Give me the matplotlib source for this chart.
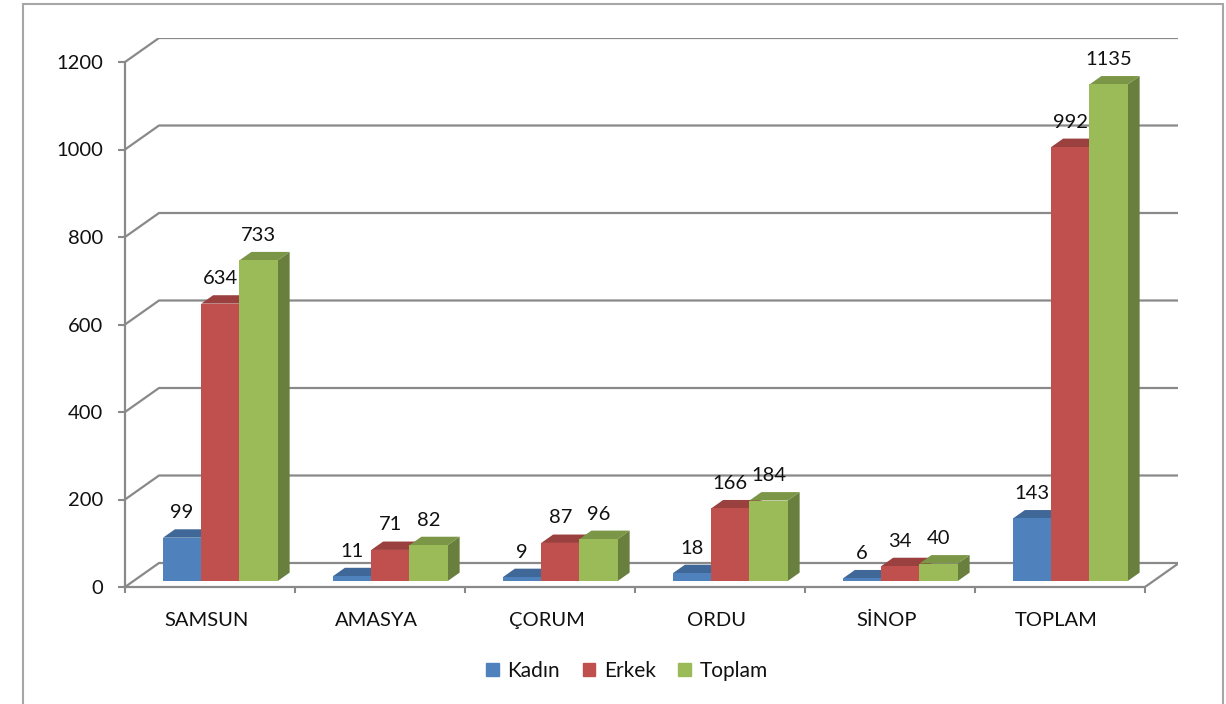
import matplotlib.pyplot as plt
import numpy as np
from matplotlib.colors import to_rgb
from matplotlib.patches import Polygon, Patch, Rectangle

plt.rcParams['font.family'] = ['Lato', 'DejaVu Sans']

categories = ['SAMSUN', 'AMASYA', 'ÇORUM', 'ORDU', 'SİNOP', 'TOPLAM']
kadin = [99, 11, 9, 18, 6, 143]
erkek = [634, 71, 87, 166, 34, 992]
toplam = [733, 82, 96, 184, 40, 1135]
series = ['Kadın', 'Erkek', 'Toplam']
colors = ['#4F81BD', '#C0504D', '#9BBB59']
yticks = [0, 200, 400, 600, 800, 1000, 1200]

W, H = 1226, 704
fig = plt.figure(figsize=(W / 100, H / 100), dpi=100)
# axes box: front-left floor corner up to back-top wall corner (pixels)
ax = fig.add_axes([125 / W, (H - 587) / H, (1178 - 125) / W, (587 - 38) / H])
ax.set_xlim(0, (1178 - 125) / 170)
ax.set_ylim(0, (587 - 38) / 0.4375)

# fake 3d depth in data units
DX, DY = 0.2, 24 / 0.4375
f0, f1 = 0.25, 0.6
bw = 0.225
x0 = 0.1735 + DX * f0
base = DY * f0
d = f1 - f0
grid_c = '#898989'
fs = 14.5


def shade(c, f):
    return tuple(np.array(to_rgb(c)) * f)


# back wall gridlines + floor
for v in yticks:
    ax.plot([0, DX, 6 + DX], [v, v + DY, v + DY], color=grid_c, lw=1.6, zorder=1,
            solid_capstyle='butt')
ax.plot([6, 6 + DX], [0, DY], color=grid_c, lw=1.6, zorder=1)

for k, (vals, c) in enumerate(zip([kadin, erkek, toplam], colors)):
    xs = np.arange(len(categories)) + x0 + k * bw
    for x, v in zip(xs, vals):
        side = [(x + bw, base), (x + bw + DX * d, base + DY * d),
                (x + bw + DX * d, base + v + DY * d), (x + bw, base + v)]
        top = [(x, base + v), (x + DX * d, base + v + DY * d),
               (x + bw + DX * d, base + v + DY * d), (x + bw, base + v)]
        ax.add_patch(Polygon(side, closed=True, color=shade(c, 0.68), lw=0, zorder=3))
        ax.add_patch(Polygon(top, closed=True, color=shade(c, 0.8), lw=0, zorder=3))
    ax.bar(xs, vals, width=bw, bottom=base, align='edge', color=c, lw=0, zorder=3)
    for x, v in zip(xs, vals):
        ax.annotate(str(v), (x + bw / 2, base + v), xytext=(0, 18), textcoords='offset points',
                    ha='center', va='center', fontsize=fs, color='#111111', zorder=5)

for s in ['top', 'right']:
    ax.spines[s].set_visible(False)
ax.spines['left'].set_bounds(0, 1200)
ax.spines['bottom'].set_bounds(0, 6)
for s in ['left', 'bottom']:
    ax.spines[s].set_color(grid_c)
    ax.spines[s].set_linewidth(1.6)
ax.set_facecolor('none')

ax.set_yticks(yticks)
ax.tick_params(axis='y', length=5, width=1.5, color=grid_c, pad=11, labelsize=fs,
               labelcolor='#111111')
ax.set_xticks(range(7))
ax.set_xticklabels([])
ax.set_xticks(np.arange(6) + 0.48, minor=True)
ax.set_xticklabels(categories, minor=True)
ax.tick_params(axis='x', which='major', length=4, width=1.5, color=grid_c)
ax.tick_params(axis='x', which='minor', length=0, pad=18, labelsize=fs, labelcolor='#111111')

handles = [Patch(color=c, label=s) for c, s in zip(colors, series)]
fig.legend(handles=handles, loc='center', bbox_to_anchor=(627 / W, 1 - 671 / H), ncol=3,
           frameon=False, fontsize=15, handlelength=0.6, handleheight=0.6,
           handletextpad=0.4, columnspacing=1.1, labelcolor='#111111')

fig.patches.append(Rectangle((23 / W, -0.05), (1223 - 23) / W, 1 - 4 / H + 0.05,
                             transform=fig.transFigure, fill=False, ec='#a6a6a6', lw=1.5))

fig.savefig('out.png', dpi=100)
